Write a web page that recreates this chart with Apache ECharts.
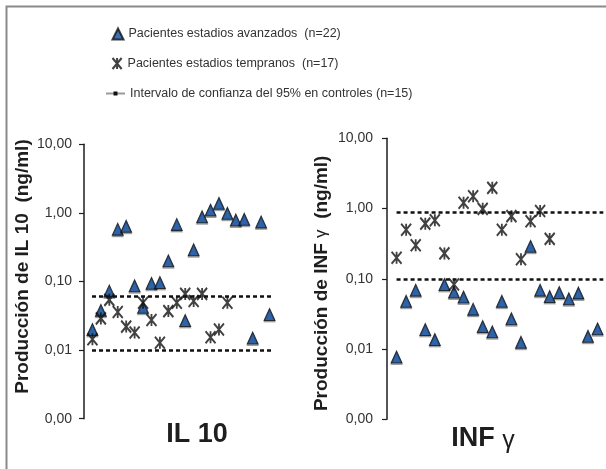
<!DOCTYPE html>
<html>
<head>
<meta charset="utf-8">
<script src="https://cdn.jsdelivr.net/npm/echarts@6/dist/echarts.min.js"></script>
<style>
  html, body { margin: 0; padding: 0; background: #fff; }
  #chart { width: 606px; height: 469px; }
</style>
</head>
<body>
<div id="chart"></div>
<script>
// IL 10 production (ng/ml) per patient
const il10Advanced = [0.020, 0.038, 0.073, 0.58, 0.64, 0.087, 0.042, 0.094, 0.097, 0.20, 0.68, 0.027, 0.29, 0.88, 1.10, 1.38, 0.99, 0.79, 0.81, 0.015, 0.74, 0.033];
const il10Early = [0.0144, 0.029, 0.054, 0.036, 0.022, 0.018, 0.049, 0.0275, 0.0128, 0.037, 0.049, 0.066, 0.052, 0.066, 0.0154, 0.020, 0.049];
// INF gamma production (ng/ml) per patient
const infAdvanced = [0.0077, 0.048, 0.069, 0.019, 0.0137, 0.083, 0.065, 0.055, 0.037, 0.021, 0.0176, 0.048, 0.027, 0.0125, 0.29, 0.069, 0.056, 0.064, 0.052, 0.063, 0.0152, 0.0194];
const infEarly = [0.20, 0.50, 0.30, 0.61, 0.68, 0.23, 0.083, 1.21, 1.50, 0.99, 1.97, 0.50, 0.78, 0.19, 0.66, 0.92, 0.37];
// 95% confidence interval of controls [lower, upper]
const il10Ci = [0.01, 0.06];
const infCi = [0.1, 0.9];
const yTicks = [0.001, 0.01, 0.1, 1, 10];

const nameAdv = 'Pacientes estadios avanzados  (n=22)';
const nameEarly = 'Pacientes estadios tempranos  (n=17)';
const nameCi = 'Intervalo de confianza del 95% en controles (n=15)';

const FONT = '"Liberation Sans", Arial, sans-serif';
const INK = '#1e1e1e';
const asterisk = 'path://M0,0L10,12M10,0L0,12M5,0L5,12';

const toPoints = arr => arr.map((v, i) => [i + 1, v]);
const fmt = v => v.toFixed(2).replace('.', ',');

function yAxisFor(gridIndex, name, labelMargin, nameGap, namePadding) {
  return {
    type: 'log', logBase: 10, gridIndex,
    min: yTicks[0], max: yTicks[yTicks.length - 1],
    splitLine: { show: false },
    axisLine: { show: true, lineStyle: { color: INK, width: 1.5 } },
    axisTick: { show: true, length: 5, lineStyle: { color: INK, width: 1.2 } },
    axisLabel: { formatter: fmt, color: '#333', fontSize: 14, fontFamily: FONT, margin: labelMargin },
    name, nameLocation: 'middle', nameRotate: 90, nameGap,
    nameTextStyle: {
      fontFamily: FONT, fontWeight: 'bold', fontSize: 19, color: INK,
      padding: namePadding,
      rich: {
        b: { fontFamily: FONT, fontWeight: 'bold', fontSize: 19, color: INK },
        g: { fontFamily: FONT, fontWeight: 'normal', fontSize: 17, color: INK }
      }
    }
  };
}

function ciSeries(gridIndex, ci, x0, x1) {
  return {
    name: nameCi, type: 'line', xAxisIndex: gridIndex, yAxisIndex: gridIndex,
    data: [], symbol: 'rect', symbolSize: 4,
    itemStyle: { color: '#111' },
    lineStyle: { color: '#9a9a9a', width: 1 },
    markLine: {
      silent: true, symbol: 'none', label: { show: false },
      lineStyle: { color: '#111', width: 2.5, type: [4, 3] },
      data: ci.map(v => [{ coord: [x0, v] }, { coord: [x1, v] }])
    }
  };
}

function advSeries(gridIndex, data) {
  return {
    name: nameAdv, type: 'scatter', xAxisIndex: gridIndex, yAxisIndex: gridIndex,
    data: toPoints(data), symbol: 'triangle', symbolSize: [11, 12], z: 3,
    itemStyle: {
      color: '#0b4ea2', borderColor: '#111', borderWidth: 1,
      shadowColor: 'rgba(0,0,0,0.35)', shadowOffsetY: 1.5, shadowBlur: 0
    }
  };
}

function earlySeries(gridIndex, data) {
  return {
    name: nameEarly, type: 'scatter', xAxisIndex: gridIndex, yAxisIndex: gridIndex,
    data: toPoints(data), symbol: asterisk, symbolSize: [10, 12], z: 4,
    itemStyle: { color: 'rgba(0,0,0,0)', borderColor: '#111', borderWidth: 2 }
  };
}

const legendText = { fontFamily: FONT, fontSize: 12.5, color: '#333' };

const chart = echarts.init(document.getElementById('chart'), null, { renderer: 'canvas' });
chart.setOption({
  animation: false,
  backgroundColor: '#fff',
  graphic: [{
    type: 'polyline', silent: true,
    shape: { points: [[6.5, 469], [6.5, 6.5], [606, 6.5]] },
    style: { stroke: '#8a8a8a', lineWidth: 2, fill: null }
  }],
  title: [
    { text: 'IL 10', left: 192, top: 416, textAlign: 'center',
      textStyle: { fontFamily: FONT, fontWeight: 'bold', fontSize: 27, color: INK } },
    { text: '{a|INF }{g|γ}', left: 478, top: 419, textAlign: 'center',
      textStyle: { rich: {
        a: { fontFamily: FONT, fontWeight: 'bold', fontSize: 27, color: INK },
        g: { fontFamily: FONT, fontWeight: 'normal', fontSize: 25, color: INK, padding: [5, 0, 0, 0] }
      } } }
  ],
  legend: [
    { data: [nameAdv], left: 106.5, top: 22.5, itemWidth: 11, itemHeight: 11, textStyle: legendText },
    { data: [nameEarly], left: 106.5, top: 52, itemWidth: 11, itemHeight: 11, textStyle: legendText },
    { data: [nameCi], left: 100, top: 82, itemWidth: 19, itemHeight: 5, textStyle: legendText }
  ],
  grid: [
    { left: 84, top: 144.3, width: 194, height: 274.4 },
    { left: 387, top: 138.3, width: 216.3, height: 281 }
  ],
  xAxis: [
    { type: 'value', gridIndex: 0, min: 0, max: 23, show: false },
    { type: 'value', gridIndex: 1, min: 0, max: 22.6, show: false }
  ],
  yAxis: [
    yAxisFor(0, 'Producción de IL 10  (ng/ml)', 12, 52, [0, 0, 0, 30]),
    yAxisFor(1, '{b|Producción de INF }{g|γ}{b|  (ng/ml)}', 14, 56, [0, 9, 0, 0])
  ],
  series: [
    ciSeries(0, il10Ci, 0.95, 22.5),
    advSeries(0, il10Advanced),
    earlySeries(0, il10Early),
    ciSeries(1, infCi, 1.0, 22.6),
    advSeries(1, infAdvanced),
    earlySeries(1, infEarly)
  ]
});
</script>
</body>
</html>
